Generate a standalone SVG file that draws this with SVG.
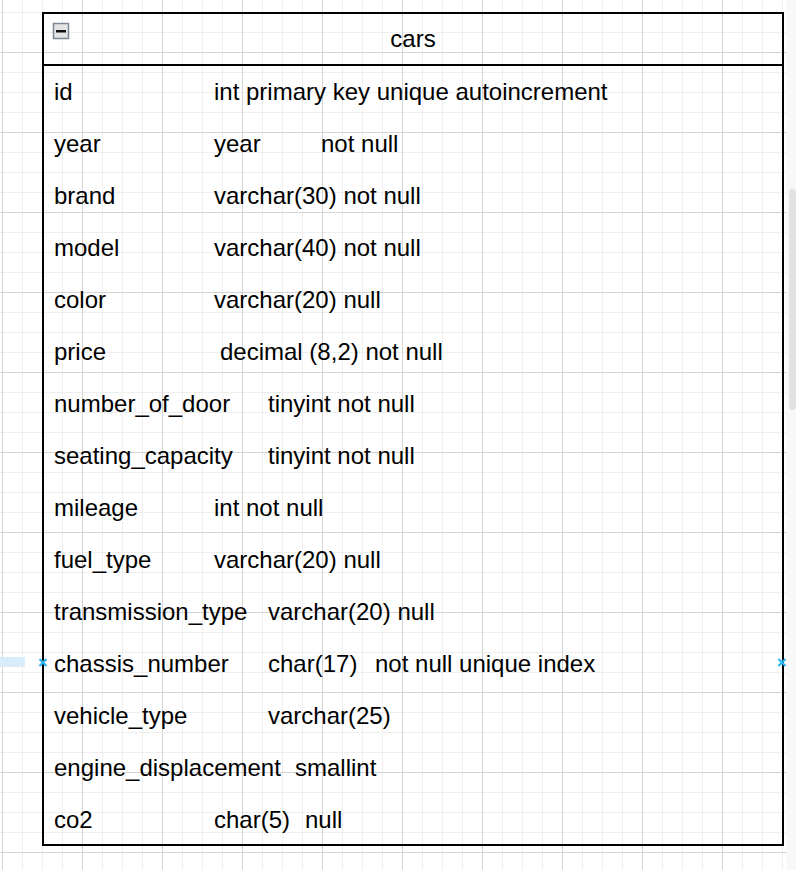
<svg xmlns="http://www.w3.org/2000/svg" width="796" height="870" viewBox="0 0 796 870">
<style>
  .t { font-family: "Liberation Sans", Arial, Helvetica, sans-serif; font-size: 24px; fill: #000; }
  .mk { stroke: #29b6f2; stroke-width: 2.2; fill: none; }
</style>
<defs>
  <pattern id="minor" patternUnits="userSpaceOnUse" x="2" y="12" width="20" height="20">
    <rect x="0" y="0" width="1" height="20" fill="#efefef"/>
    <rect x="0" y="0" width="20" height="1" fill="#efefef"/>
  </pattern>
  <pattern id="major" patternUnits="userSpaceOnUse" x="2" y="52" width="80" height="80">
    <rect x="0" y="0" width="1" height="80" fill="#d4d4d4"/>
    <rect x="0" y="0" width="80" height="1" fill="#d4d4d4"/>
  </pattern>
</defs>
<rect x="0" y="0" width="796" height="870" fill="#f8f8f8"/>
<rect x="0" y="0" width="786" height="870" fill="#ffffff"/>
<rect x="0" y="0" width="786" height="870" fill="url(#minor)"/>
<rect x="0" y="0" width="786" height="870" fill="url(#major)"/>
<rect x="789" y="189" width="7" height="221" rx="3" fill="#e2e2e2"/>
<rect x="0" y="657" width="25" height="10" fill="#d9edf9"/>

<g id="cars">
  <rect x="43" y="13" width="740" height="832" fill="none" stroke="#000" stroke-width="2"/>
  <line x1="43" y1="65" x2="783" y2="65" stroke="#000" stroke-width="2"/>
  <g id="collapse-icon">
    <rect x="53.5" y="23.5" width="15" height="15" fill="#e4e4e4" stroke="#7f8899" stroke-width="1.5"/>
    <rect x="56" y="30" width="10" height="2.5" fill="#111"/>
  </g>
  <text class="t" x="413" y="47" text-anchor="middle">cars</text>
  <g id="rows">
    <text class="t" x="54" y="100">id</text>
    <text class="t" x="214" y="100">int primary key unique autoincrement</text>
    <text class="t" x="54" y="152">year</text>
    <text class="t" x="214" y="152">year</text>
    <text class="t" x="321" y="152">not null</text>
    <text class="t" x="54" y="204">brand</text>
    <text class="t" x="214" y="204">varchar(30) not null</text>
    <text class="t" x="54" y="256">model</text>
    <text class="t" x="214" y="256">varchar(40) not null</text>
    <text class="t" x="54" y="308">color</text>
    <text class="t" x="214" y="308">varchar(20) null</text>
    <text class="t" x="54" y="360">price</text>
    <text class="t" x="220" y="360">decimal (8,2) not null</text>
    <text class="t" x="54" y="412">number_of_door</text>
    <text class="t" x="268" y="412">tinyint not null</text>
    <text class="t" x="54" y="464">seating_capacity</text>
    <text class="t" x="268" y="464">tinyint not null</text>
    <text class="t" x="54" y="516">mileage</text>
    <text class="t" x="214" y="516">int not null</text>
    <text class="t" x="54" y="568">fuel_type</text>
    <text class="t" x="214" y="568">varchar(20) null</text>
    <text class="t" x="54" y="620">transmission_type</text>
    <text class="t" x="268" y="620">varchar(20) null</text>
    <text class="t" x="54" y="672">chassis_number</text>
    <text class="t" x="268" y="672">char(17)</text>
    <text class="t" x="375" y="672">not null unique index</text>
    <text class="t" x="54" y="724">vehicle_type</text>
    <text class="t" x="268" y="724">varchar(25)</text>
    <text class="t" x="54" y="776">engine_displacement</text>
    <text class="t" x="295" y="776">smallint</text>
    <text class="t" x="54" y="828">co2</text>
    <text class="t" x="214" y="828">char(5)</text>
    <text class="t" x="305" y="828">null</text>
  </g>
</g>
<g id="connectors">
  <path class="mk" d="M39.5 659 L46.5 666 M46.5 659 L39.5 666"/>
  <path class="mk" d="M778.5 659 L785.5 666 M785.5 659 L778.5 666"/>
</g>
</svg>
